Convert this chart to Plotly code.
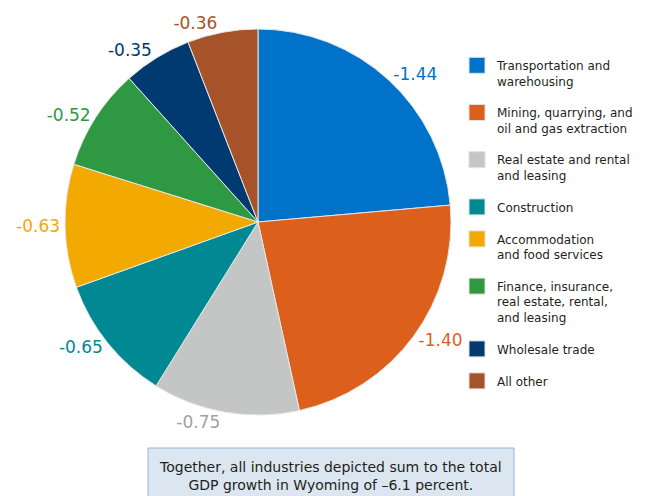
import plotly.graph_objects as go

# Contribution of each industry to Wyoming GDP growth (percentage points)
industries = [
    "Transportation and<br>warehousing",
    "Mining, quarrying, and<br>oil and gas extraction",
    "Real estate and rental<br>and leasing",
    "Construction",
    "Accommodation<br>and food services",
    "Finance, insurance,<br>real estate, rental,<br>and leasing",
    "Wholesale trade",
    "All other",
]
contributions = [-1.44, -1.40, -0.75, -0.65, -0.63, -0.52, -0.35, -0.36]
colors = ["#0072C9", "#DD5F1C", "#C4C6C6", "#008893", "#F2A900",
          "#2F9842", "#003A70", "#A6532A"]
label_colors = ["#0072C9", "#DD5F1C", "#9EA2A2", "#008893", "#F2A900",
                "#2F9842", "#003A70", "#A6532A"]

W, H = 651, 496
FONT = "DejaVu Sans"
magnitudes = [abs(v) for v in contributions]
labels_text = [f"{v:.2f}" for v in contributions]

fig = go.Figure(go.Pie(
    labels=industries,
    values=magnitudes,
    text=labels_text,
    texttemplate="%{text}",
    textinfo="text",
    textposition="outside",
    outsidetextfont=dict(color=label_colors, size=17, family=FONT),
    marker=dict(colors=colors, line=dict(color="#E6E6E6", width=1)),
    sort=False,
    direction="clockwise",
    rotation=0,
    showlegend=False,
    domain=dict(x=[65 / W, 451 / W], y=[(H - 415) / H, (H - 29) / H]),
))

# Legend entries: one group per industry so the groups can be spaced apart
for i, (name, col) in enumerate(zip(industries, colors)):
    fig.add_trace(go.Scatter(
        x=[None], y=[None], mode="markers", name=name,
        marker=dict(symbol="square", size=16, color=col,
                    line=dict(color="#E0E0E0", width=1)),
        legendgroup=f"g{i}", showlegend=True, hoverinfo="skip",
    ))

fig.update_layout(
    width=W, height=H,
    margin=dict(l=0, r=0, t=0, b=0),
    paper_bgcolor="white",
    plot_bgcolor="white",
    xaxis=dict(visible=False),
    yaxis=dict(visible=False),
    font=dict(family=FONT, color="#231F20"),
    legend=dict(
        x=457 / W, y=1 - 51 / H, xanchor="left", yanchor="top",
        font=dict(size=12, color="#231F20", family=FONT),
        itemsizing="trace",
        traceorder="grouped",
        tracegroupgap=13,
        valign="top",
        bgcolor="rgba(0,0,0,0)",
    ),
    shapes=[dict(
        type="rect", xref="paper", yref="paper",
        x0=148 / W, x1=514 / W, y0=-0.05, y1=1 - 448 / H,
        fillcolor="#DCE6F1", line=dict(color="#94B3D6", width=1),
    )],
    annotations=[dict(
        xref="paper", yref="paper", x=331 / W, y=1 - 476 / H,
        xanchor="center", yanchor="middle", showarrow=False,
        text="Together, all industries depicted sum to the total<br>GDP growth in Wyoming of \u20136.1 percent.",
        font=dict(size=14, color="#231F20", family=FONT), align="center",
    )],
)

fig.write_html("out.html")
